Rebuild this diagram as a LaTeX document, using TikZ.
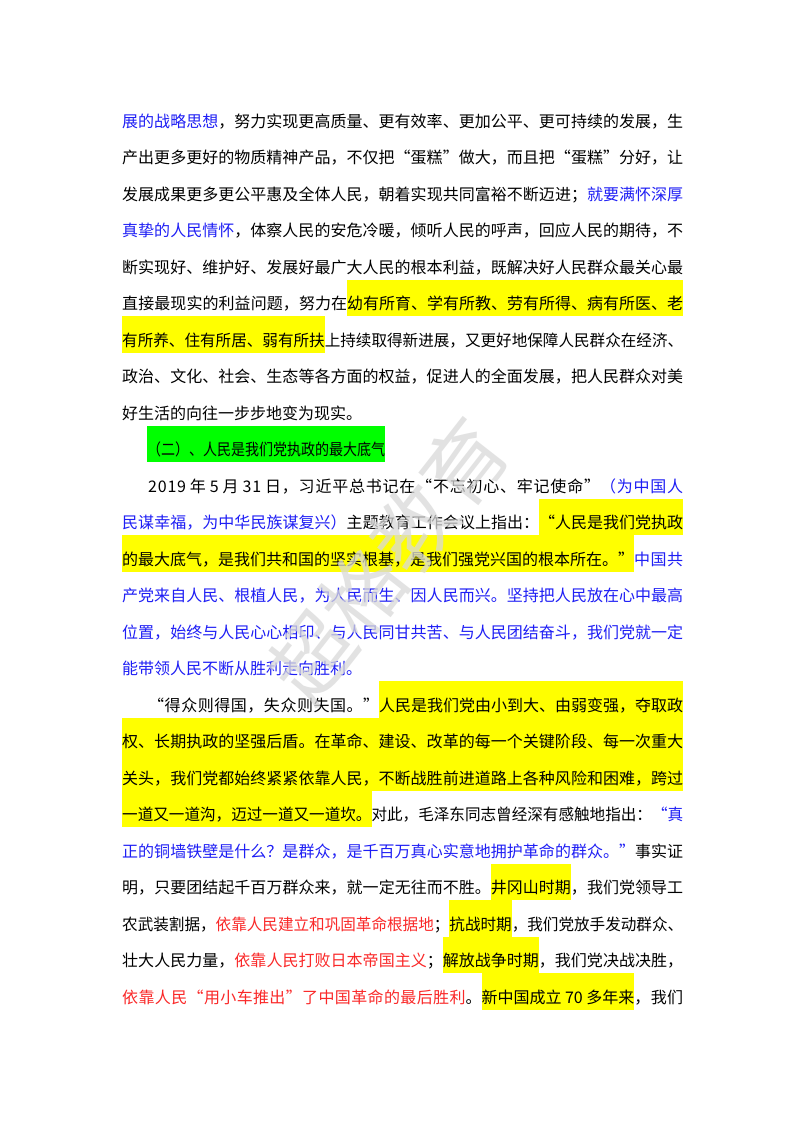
\documentclass[tikz,border=0pt]{standalone}
\usepackage{fontspec}
\usepackage{graphicx}
\setmainfont{Noto Sans CJK SC}
\newfontfamily\wmfont{Noto Sans CJK SC}
\XeTeXinterchartokenstate=1
\XeTeXinterchartoks 0 0 = {\hskip 0pt plus 4pt}
\definecolor{hlyel}{RGB}{255,255,0}
\definecolor{hlgrn}{RGB}{0,255,0}
\definecolor{tblue}{RGB}{30,30,245}
\definecolor{tred}{RGB}{250,40,40}
\newcommand\hly[1]{{\setlength\fboxsep{0pt}\colorbox{hlyel}{\rule[-6.5pt]{0pt}{36.5pt}#1}}}
\newcommand\hlg[1]{{\setlength\fboxsep{0pt}\colorbox{hlgrn}{\rule[-6.5pt]{0pt}{36.5pt}#1}}}
\newcommand\bl[1]{{\color{tblue}#1}}
\newcommand\rd[1]{{\color{tred}#1}}
\newsavebox\linebx
\newcommand\FitJ[2]{\sbox\linebx{#2}\ifdim\wd\linebx>#1\relax\resizebox{#1}{\height}{#2}\else\makebox[#1][s]{#2}\fi}
\newcommand\FullJ[1]{\FitJ{561pt}{#1}}
\newcommand\IndJ[1]{\FitJ{535pt}{#1}}
\begin{document}
\begin{tikzpicture}[x=1pt,y=1pt,
  ln/.style={anchor=base west,inner sep=0pt,font=\fontsize{16}{16}\selectfont},
  wm/.style={text=black!15,font=\wmfont\fontsize{82}{82}\selectfont,rotate=52,inner sep=0pt}]
\useasboundingbox (0,0) rectangle (800,-1132);
\fill[white] (0,0) rectangle (800,-1132);
\node[ln] (l0) at (122,-127) {\FullJ{\bl{展的战略思想}，努力实现更高质量、更有效率、更加公平、更可持续的发展，生}};
\node[ln] (l1) at (122,-163.5) {\FullJ{产出更多更好的物质精神产品，不仅把“蛋糕”做大，而且把“蛋糕”分好，让}};
\node[ln] (l2) at (122,-200) {\FullJ{发展成果更多更公平惠及全体人民，朝着实现共同富裕不断迈进；\bl{就要满怀深厚}}};
\node[ln] (l3) at (122,-236.5) {\FullJ{\bl{真挚的人民情怀}，体察人民的安危冷暖，倾听人民的呼声，回应人民的期待，不}};
\node[ln] (l4) at (122,-273) {\FullJ{断实现好、维护好、发展好最广大人民的根本利益，既解决好人民群众最关心最}};
\node[ln] (l5) at (122,-309.5) {\FullJ{直接最现实的利益问题，努力在\hly{幼有所育、学有所教、劳有所得、病有所医、老}}};
\node[ln] (l6) at (122,-346) {\FullJ{\hly{有所养、住有所居、弱有所扶}上持续取得新进展，又更好地保障人民群众在经济、}};
\node[ln] (l7) at (122,-382.5) {\FullJ{政治、文化、社会、生态等各方面的权益，促进人的全面发展，把人民群众对美}};
\node[ln] (l8) at (122,-419) {好生活的向往一步步地变为现实。};
\node[ln] (l9) at (147,-455.5) {\hlg{\resizebox{238pt}{\height}{\rule[-6.5pt]{0pt}{36.5pt}（二）、人民是我们党执政的最大底气}}};
\node[ln] (l10) at (148,-492) {\IndJ{2019 年 5 月 31 日，习近平总书记在“不忘初心、牢记使命”\bl{（为中国人}}};
\node[ln] (l11) at (122,-528.5) {\FullJ{\bl{民谋幸福，为中华民族谋复兴）}主题教育工作会议上指出：\hly{“人民是我们党执政}}};
\node[ln] (l12) at (122,-565) {\FullJ{\hly{的最大底气，是我们共和国的坚实根基，是我们强党兴国的根本所在。”}\bl{中国共}}};
\node[ln] (l13) at (122,-601.5) {\FullJ{\bl{产党来自人民、根植人民，为人民而生、因人民而兴。坚持把人民放在心中最高}}};
\node[ln] (l14) at (122,-638) {\FullJ{\bl{位置，始终与人民心心相印、与人民同甘共苦、与人民团结奋斗，我们党就一定}}};
\node[ln] (l15) at (122,-674.5) {\bl{能带领人民不断从胜利走向胜利。}};
\node[ln] (l16) at (148,-711) {\IndJ{“得众则得国，失众则失国。”\hly{人民是我们党由小到大、由弱变强，夺取政}}};
\node[ln] (l17) at (122,-747.5) {\hly{\FullJ{权、长期执政的坚强后盾。在革命、建设、改革的每一个关键阶段、每一次重大}}};
\node[ln] (l18) at (122,-784) {\hly{\FullJ{关头，我们党都始终紧紧依靠人民，不断战胜前进道路上各种风险和困难，跨过}}};
\node[ln] (l19) at (122,-820.5) {\FullJ{\hly{一道又一道沟，迈过一道又一道坎。}对此，毛泽东同志曾经深有感触地指出：\bl{“真}}};
\node[ln] (l20) at (122,-857) {\FullJ{\bl{正的铜墙铁壁是什么？是群众，是千百万真心实意地拥护革命的群众。”}事实证}};
\node[ln] (l21) at (122,-893.5) {\FullJ{明，只要团结起千百万群众来，就一定无往而不胜。\hly{井冈山时期}，我们党领导工}};
\node[ln] (l22) at (122,-930) {\FullJ{农武装割据，\rd{依靠人民建立和巩固革命根据地}；\hly{抗战时期}，我们党放手发动群众、}};
\node[ln] (l23) at (122,-966.5) {\FullJ{壮大人民力量，\rd{依靠人民打败日本帝国主义}；\hly{解放战争时期}，我们党决战决胜，}};
\node[ln] (l24) at (122,-1003) {\FullJ{\rd{依靠人民“用小车推出”了中国革命的最后胜利}。\hly{新中国成立 70 多年来}，我们}};
\node[wm,opacity=0.75] (wm) at (388,-560) {超格教育};
\end{tikzpicture}
\end{document}
